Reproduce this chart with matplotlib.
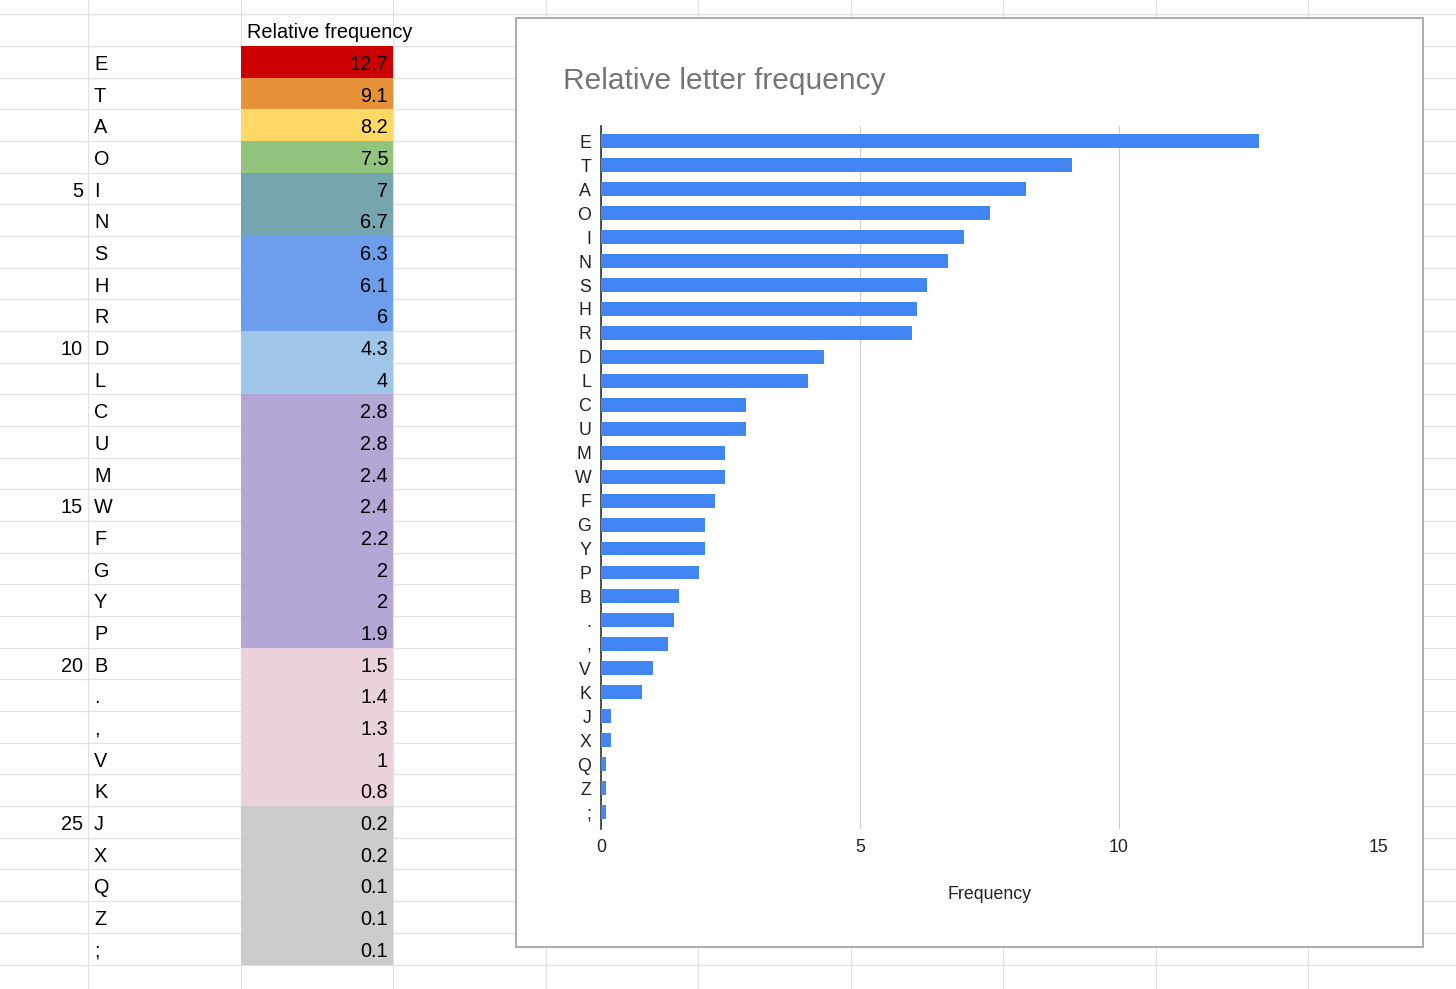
import matplotlib.pyplot as plt
from matplotlib.patches import Rectangle

plt.rcParams['font.family'] = ['Liberation Sans', 'DejaVu Sans']

# letter frequency table (same order as the sheet)
letters = ['E', 'T', 'A', 'O', 'I', 'N', 'S', 'H', 'R', 'D', 'L', 'C', 'U', 'M', 'W',
           'F', 'G', 'Y', 'P', 'B', '.', ',', 'V', 'K', 'J', 'X', 'Q', 'Z', ';']
freqs = [12.7, 9.1, 8.2, 7.5, 7, 6.7, 6.3, 6.1, 6, 4.3, 4, 2.8, 2.8, 2.4, 2.4,
         2.2, 2, 2, 1.9, 1.5, 1.4, 1.3, 1, 0.8, 0.2, 0.2, 0.1, 0.1, 0.1]
groups = (['red', 'orange', 'yellow', 'green'] + ['teal'] * 2 + ['blue'] * 3
          + ['lightblue'] * 2 + ['purple'] * 8 + ['pink'] * 5 + ['gray'] * 5)
x_ticks = [0, 5, 10, 15]

palette = {'red': '#cc0000', 'orange': '#e69138', 'yellow': '#ffd966',
           'green': '#93c47d', 'teal': '#76a5af', 'blue': '#6d9eeb',
           'lightblue': '#9fc5e8', 'purple': '#b4a7d6', 'pink': '#ead1dc',
           'gray': '#cccccc'}

W, H = 1456, 989
fig = plt.figure(figsize=(W / 100, H / 100), dpi=100)

# --- spreadsheet background ---
ax = fig.add_axes([0, 0, 1, 1])
ax.set_xlim(0, W)
ax.set_ylim(H, 0)
ax.axis('off')

row0, row_h = 14.4, 31.67
col_edges = [88, 240.5, 393, 545.5, 698, 850.5, 1003, 1155.5, 1308]
grid_c = '#e2e2e2'
k = 0
while row0 + k * row_h < H:
    ax.axhline(row0 + k * row_h, color=grid_c, lw=0.9, zorder=1)
    k += 1
for cx in col_edges:
    ax.axvline(cx, color=grid_c, lw=0.9, zorder=1)

fs = 14.3
ax.text(247, row0 + row_h / 2 + 2.5, 'Relative frequency', fontsize=fs,
        ha='left', va='center', zorder=4)
for i, (let, f, g) in enumerate(zip(letters, freqs, groups)):
    top = row0 + (i + 1) * row_h
    yc = top + row_h / 2 + 2.5
    ax.add_patch(Rectangle((240.5, top), 393 - 240.5, row_h,
                           facecolor=palette[g], edgecolor='none', zorder=2))
    ax.text(94, yc, let, fontsize=fs, ha='left', va='center', zorder=4)
    ax.text(388, yc, '%g' % f, fontsize=fs, ha='right', va='center', zorder=4)
    if (i + 1) % 5 == 0:
        ax.text(83, yc, str(i + 1), fontsize=fs, ha='right', va='center', zorder=4)

# chart card
ax.add_patch(Rectangle((516, 18), 1423 - 516, 947 - 18, facecolor='white',
                       edgecolor='#9e9e9e', lw=1.2, zorder=3))
ax.text(563, 81, 'Relative letter frequency', fontsize=21.5, color='#757575',
        ha='left', va='center', zorder=4)

# --- bar chart ---
left, right, top, bottom = 601, 1378, 126, 829
ax2 = fig.add_axes([left / W, 1 - bottom / H, (right - left) / W, (bottom - top) / H])
ax2.set_facecolor('none')
pos = list(range(len(letters)))
ax2.barh(pos, freqs, height=0.58, color='#4285f4', zorder=3)
ax2.axvline(0, color='#333333', lw=1.2, zorder=2, clip_on=False)
ax2.set_xlim(0, 15)
ax2.set_ylim(28.71, -0.64)
ax2.set_xticks(x_ticks)
ax2.set_yticks(pos)
ax2.set_yticklabels(letters)
ax2.grid(axis='x', color='#cccccc', lw=0.8, zorder=0)
ax2.tick_params(length=0, labelsize=12.8, colors='#222222')
ax2.tick_params(axis='x', pad=7)
ax2.tick_params(axis='y', pad=7)
for s in ax2.spines.values():
    s.set_visible(False)
ax2.set_xlabel('Frequency', fontsize=12.8, color='#222222', labelpad=21.5)

fig.savefig('out.png', dpi=100)
